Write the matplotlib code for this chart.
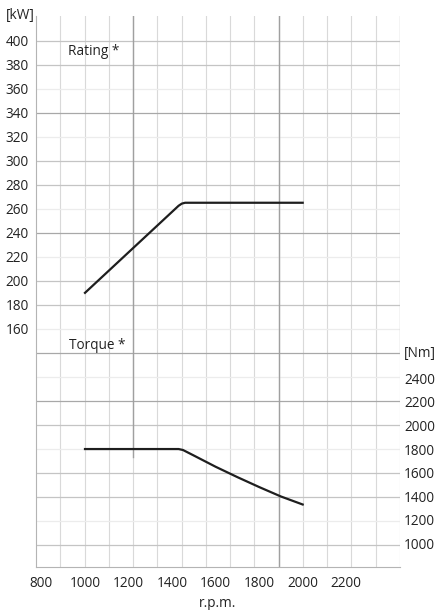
import numpy as np
import matplotlib
matplotlib.use('Agg')
import matplotlib.pyplot as plt

plt.rcParams['font.family'] = ['Open Sans', 'DejaVu Sans']
fontsize = 9.8

# engine curves
rating_rpm = [1000, 1430, 1445, 1460, 2000]
rating_kw = [190, 262.5, 264.3, 265, 265]

torque_rpm = [1000, 1430, 1450, 1500, 1600, 1700, 1800, 1900, 2000]
torque_nm = [1800, 1800, 1792, 1745, 1650, 1562, 1478, 1398, 1330]

rpm_ticks = [800, 1000, 1200, 1400, 1600, 1800, 2000, 2200]
kw_ticks = [160, 180, 200, 220, 240, 260, 280, 300, 320, 340, 360, 380, 400]
nm_ticks = [1000, 1200, 1400, 1600, 1800, 2000, 2200, 2400]

fig = plt.figure(figsize=(4.36, 6.10), dpi=100)
ax = fig.add_axes([0.0826, 0.071, 0.8348, 0.9028])
ax2 = ax.twinx()

ax.set_xlim(775, 2447)
ax.set_ylim(-38, 420.5)
ax2.set_ylim(803, 5470)

# grid (sheet grid is not tied to the rpm labels)
xgrid = np.linspace(775, 2447, 16)
for xv in xgrid[1:]:
    ax.axvline(xv, color='#d9d9d9', lw=0.8, zorder=0)
ax.axvline(xgrid[4], ymin=0.2, ymax=1, color='#a0a0a0', lw=1.0, zorder=1)
ax.axvline(xgrid[10], color='#a0a0a0', lw=1.0, zorder=1)
ax.axvline(xgrid[-1], ymin=0.388, ymax=1, color='#c4c4c4', lw=0.9, zorder=1)

hgrid = np.arange(-20, 420, 20)
dark = {240, 340, 100, 140}
faint = {360, 320, 260, 220, 160, 120, 60, 0}
for yv in hgrid:
    if yv in dark:
        c = '#a8a8a8'
    elif yv in faint:
        c = '#ececec'
    else:
        c = '#c4c4c4'
    ax.axhline(yv, color=c, lw=0.9, zorder=0)

ax.plot(rating_rpm, rating_kw, color='#1e1e1e', lw=1.6, zorder=3)
ax2.plot(torque_rpm, torque_nm, color='#1e1e1e', lw=1.6, zorder=3)

for a in (ax, ax2):
    for s in ('top', 'right'):
        a.spines[s].set_visible(False)
ax2.spines['left'].set_visible(False)
ax2.spines['bottom'].set_visible(False)
ax.spines['left'].set_color('#b4b4b4')
ax.spines['bottom'].set_color('#b4b4b4')

ax.set_xticks(rpm_ticks)
ax.set_yticks(kw_ticks)
ax2.set_yticks(nm_ticks)
ax.tick_params(axis='both', length=0, labelsize=fontsize, colors='#222222')
ax.tick_params(axis='y', pad=5)
ax.tick_params(axis='x', pad=7)
ax2.tick_params(axis='y', length=0, labelsize=fontsize, colors='#222222', pad=3)

ax.set_xlabel('r.p.m.', fontsize=fontsize, color='#222222', labelpad=3)

fig.text(0.014, 0.974, '[kW]', fontsize=fontsize, color='#222222', va='center')
fig.text(0.926, 0.421, '[Nm]', fontsize=fontsize, color='#222222', va='center')
ax.text(0.088, 0.93, 'Rating *', transform=ax.transAxes, fontsize=fontsize, color='#222222')
ax.text(0.09, 0.395, 'Torque *', transform=ax.transAxes, fontsize=fontsize, color='#222222')

fig.savefig('out.png', dpi=100)
